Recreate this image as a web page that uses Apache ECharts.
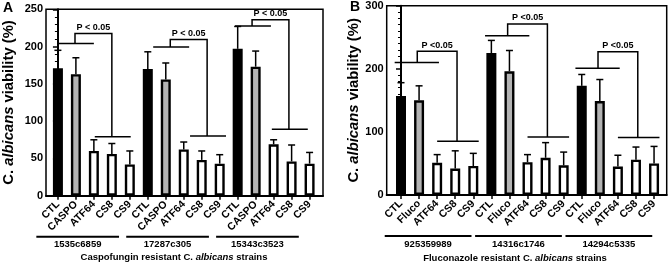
<!DOCTYPE html>
<html>
<head>
<meta charset="utf-8">
<script src="https://cdn.jsdelivr.net/npm/echarts@6/dist/echarts.min.js"></script>
<style>
  html, body { margin: 0; padding: 0; background: #fff; }
  #chart { width: 669px; height: 264px; }
</style>
</head>
<body>
<div id="chart"></div>
<script>
// treatments repeated per strain
const TREATMENTS_A = ["CTL", "CASPO", "ATF64", "CS8", "CS9"];
const TREATMENTS_B = ["CTL", "Fluco", "ATF64", "CS8", "CS9"];
const STRAINS_A = ["1535c6859", "17287c305", "15343c3523"];
const STRAINS_B = ["925359989", "14316c1746", "14294c5335"];

// viability (%) and upper error, 5 bars per strain
const VIABILITY_A = [171, 163, 60, 56, 42, 170, 156, 62, 48, 43, 197, 173, 69, 46, 43];
const ERROR_A = [24, 22, 15, 14, 18, 23, 22, 10, 12, 12, 30, 21, 6, 22, 15];
const VIABILITY_B = [157, 150, 51, 42, 46, 225, 196, 52, 59, 47, 173, 149, 45, 56, 50];
const ERROR_B = [21, 23, 13, 28, 20, 20, 33, 12, 24, 21, 18, 34, 18, 20, 27];

// significance brackets per strain: [upper line, peak, lower line]
const BRACKETS_A = [[204, 217.5, 79], [199.5, 209.5, 80], [227.7, 236, 89]];
const BRACKETS_B = [[210, 228, 85], [252.5, 271, 92], [201, 227, 91]];
const P_TEXT_A = "P < 0.05";
const P_TEXT_B = "P <0.05";

const Y_TICKS_A = [0, 250, 50];
const Y_TICKS_B = [0, 300, 100];

const FONT = '"Liberation Sans", Arial, sans-serif';

// layout, in category units relative to first bar of a strain
const LAYOUT_A = {
  extent: [-0.663, 14.746],
  upper: [0, 2.0], tick: 0.95, right: 3.0, lower: [2.05, 4.05],
  shift: [0, 0.3, -0.15],
  strainLine: [-1.2, 3.4],
};
const LAYOUT_B = {
  extent: [-0.791, 14.70],
  upper: [-0.35, 2.1], tick: 0.9, right: 3.1, lower: [2.0, 4.3],
  shift: [0, 0, 0],
  strainLine: [-0.9, 3.9],
};

function barStyle(i) {
  const t = i % 5;
  if (t === 0) return { color: "#000", borderColor: "#000", borderWidth: 2.4 };
  if (t === 1) return { color: "#b3b3b3", borderColor: "#000", borderWidth: 2.4 };
  return { color: "#fff", borderColor: "#000", borderWidth: 2.4 };
}

function labelsFor(strains, treatments) {
  return strains.flatMap(() => treatments);
}

function errorBarItem(params, api) {
  const x = api.value(0);
  const v = api.value(1);
  const e = api.value(2);
  const base = api.coord([x, v]);
  const top = api.coord([x, v + e]);
  const cap = 3.5;
  const st = { stroke: "#000", lineWidth: 1.5 };
  return {
    type: "group",
    children: [
      { type: "line", shape: { x1: base[0], y1: base[1], x2: top[0], y2: top[1] }, style: st },
      { type: "line", shape: { x1: top[0] - cap, y1: top[1], x2: top[0] + cap, y2: top[1] }, style: st },
    ],
  };
}

function bracketRenderer(layout, pText) {
  return function (params, api) {
    const g = api.value(0);
    const s = g * 5 + layout.shift[g];
    const upper = api.value(1);
    const peak = api.value(2);
    const lower = api.value(3);
    const p = (x, y) => api.coord([s + x, y]);
    const st = { stroke: "#000", lineWidth: 1.5, fill: null };
    const u0 = p(layout.upper[0], upper);
    const u1 = p(layout.upper[1], upper);
    const t0 = p(layout.tick, upper);
    const t1 = p(layout.tick, peak);
    const r0 = p(layout.right, peak);
    const r1 = p(layout.right, lower);
    const l0 = p(layout.lower[0], lower);
    const l1 = p(layout.lower[1], lower);
    return {
      type: "group",
      children: [
        { type: "line", shape: { x1: u0[0], y1: u0[1], x2: u1[0], y2: u1[1] }, style: st },
        { type: "polyline", shape: { points: [t0, t1, r0, r1] }, style: st },
        { type: "line", shape: { x1: l0[0], y1: l0[1], x2: l1[0], y2: l1[1] }, style: st },
        {
          type: "text",
          x: (t1[0] + r0[0]) / 2,
          y: t1[1] - 1.5,
          style: {
            text: pText, fill: "#000", align: "center", verticalAlign: "bottom",
            font: "bold 9px " + FONT,
          },
        },
      ],
    };
  };
}

function strainRenderer(layout, strains) {
  return function (params, api) {
    const g = api.value(0);
    const a = api.coord([g * 5 + layout.strainLine[0], 0]);
    const b = api.coord([g * 5 + layout.strainLine[1], 0]);
    const y = a[1] + 41;
    return {
      type: "group",
      children: [
        { type: "line", shape: { x1: a[0], y1: y, x2: b[0], y2: y }, style: { stroke: "#000", lineWidth: 2 } },
        {
          type: "text", x: (a[0] + b[0]) / 2, y: y + 3,
          style: { text: strains[g], fill: "#000", align: "center", verticalAlign: "top", font: "bold 9.5px " + FONT },
        },
      ],
    };
  };
}

const NAME_RICH = {
  n: { fontFamily: FONT, fontWeight: "bold", fontSize: 14.8, color: "#000" },
  i: { fontFamily: FONT, fontWeight: "bold", fontStyle: "italic", fontSize: 14.8, color: "#000" },
};
const TITLE_RICH = {
  n: { fontFamily: FONT, fontWeight: "bold", fontSize: 9.5, color: "#000" },
  i: { fontFamily: FONT, fontWeight: "bold", fontStyle: "italic", fontSize: 9.5, color: "#000" },
};

function xAxisFor(gridIndex, names, extent) {
  const idx = names.map((_, i) => i);
  return {
    type: "value", gridIndex, min: extent[0], max: extent[1],
    splitLine: { show: false },
    axisLine: { lineStyle: { color: "#000", width: 2 } },
    axisTick: { customValues: idx, length: 4, lineStyle: { color: "#000", width: 1.5 } },
    axisLabel: {
      customValues: idx, formatter: (v) => names[Math.round(v)] || "",
      rotate: 45, margin: 7, color: "#000", fontWeight: "bold", fontSize: 10.5, fontFamily: FONT,
    },
  };
}

function yAxisFor(gridIndex, ticks, minorSplit, nameGap) {
  return {
    type: "value", gridIndex, min: ticks[0], max: ticks[1], interval: ticks[2],
    splitLine: { show: false },
    axisLine: { show: true, lineStyle: { color: "#000", width: 2 } },
    axisTick: { show: true, length: 5, lineStyle: { color: "#000", width: 1.5 } },
    minorTick: { show: true, splitNumber: minorSplit, length: 3, lineStyle: { color: "#000", width: 1 } },
    axisLabel: { color: "#000", fontWeight: "bold", fontSize: 11, fontFamily: FONT, margin: 3 },
    name: "{n|C. }{i|albicans}{n| viability (%)}",
    nameLocation: "middle", nameGap, nameRotate: 90,
    nameTextStyle: { fontFamily: FONT, fontWeight: "bold", fontSize: 14.8, color: "#000", rich: NAME_RICH },
  };
}

const namesA = labelsFor(STRAINS_A, TREATMENTS_A);
const namesB = labelsFor(STRAINS_B, TREATMENTS_B);

function panelSeries(k, values, errors, brackets, layout, pText, strains) {
  return [
    {
      type: "custom", xAxisIndex: k, yAxisIndex: k, z: 1,
      data: values.map((v, i) => [i, v, errors[i]]),
      renderItem: errorBarItem,
    },
    {
      type: "bar", xAxisIndex: k, yAxisIndex: k, z: 2, barWidth: 10,
      data: values.map((v, i) => ({ value: [i, v], itemStyle: barStyle(i) })),
    },
    {
      type: "custom", xAxisIndex: k, yAxisIndex: k, z: 3,
      data: brackets.map((b, g) => [g, b[0], b[1], b[2]]),
      renderItem: bracketRenderer(layout, pText),
    },
    {
      type: "custom", xAxisIndex: k, yAxisIndex: k, z: 3,
      data: strains.map((s, g) => [g, 0]),
      renderItem: strainRenderer(layout, strains),
    },
  ];
}

const chart = echarts.init(document.getElementById("chart"), null, { renderer: "canvas" });
chart.setOption({
  animation: false,
  backgroundColor: "#fff",
  grid: [
    { left: 44, top: 9.3, width: 279, height: 186.4, show: true, borderColor: "#000", borderWidth: 1.5 },
    { left: 386.7, top: 5.7, width: 280, height: 189.3, show: true, borderColor: "#000", borderWidth: 1.5 },
  ],
  xAxis: [xAxisFor(0, namesA, LAYOUT_A.extent), xAxisFor(1, namesB, LAYOUT_B.extent)],
  yAxis: [yAxisFor(0, Y_TICKS_A, 5, 30), yAxisFor(1, Y_TICKS_B, 10, 24)],
  series: [
    ...panelSeries(0, VIABILITY_A, ERROR_A, BRACKETS_A, LAYOUT_A, P_TEXT_A, STRAINS_A),
    ...panelSeries(1, VIABILITY_B, ERROR_B, BRACKETS_B, LAYOUT_B, P_TEXT_B, STRAINS_B),
  ],
  graphic: [
    { type: "text", left: 3, top: 1, style: { text: "A", font: "bold 14px " + FONT, fill: "#000" } },
    { type: "text", left: 350, top: 0, style: { text: "B", font: "bold 14px " + FONT, fill: "#000" } },
    {
      type: "text", x: 174, y: 257,
      style: { text: "{n|Caspofungin resistant C. }{i|albicans}{n| strains}", rich: TITLE_RICH, align: "center", verticalAlign: "middle" },
    },
    {
      type: "text", x: 515, y: 258,
      style: { text: "{n|Fluconazole resistant C. }{i|albicans}{n| strains}", rich: TITLE_RICH, align: "center", verticalAlign: "middle" },
    },
  ],
});
</script>
</body>
</html>
